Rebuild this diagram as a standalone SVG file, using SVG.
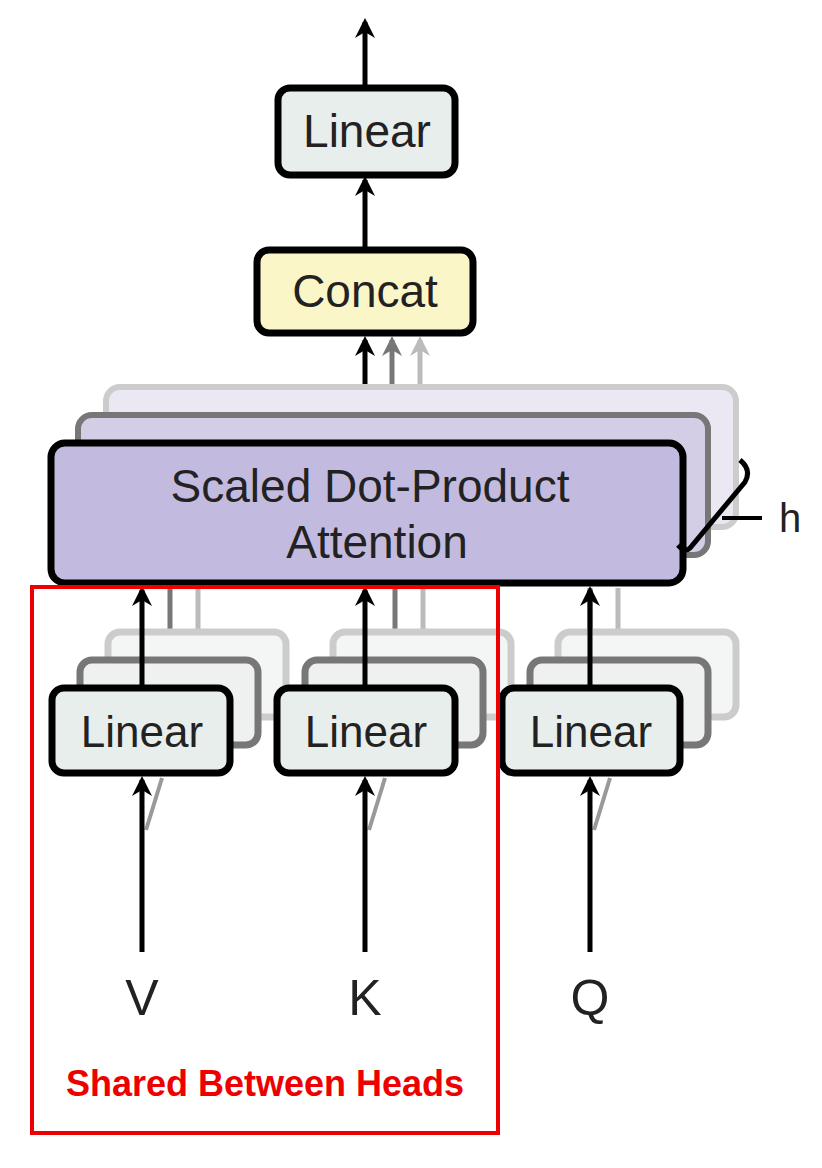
<svg xmlns="http://www.w3.org/2000/svg" width="822" height="1168" viewBox="0 0 822 1168">
<defs>
<style>
.lin{fill:#e8eeec;stroke:#000;stroke-width:7}
.t{font-family:"Liberation Sans",Arial,sans-serif;fill:#222;text-anchor:middle}
.a{stroke:#000;stroke-width:5;fill:none}
.g1{stroke:#777;stroke-width:5;fill:none}
.g2{stroke:#bbb;stroke-width:5;fill:none}
</style>
<marker id="ah" viewBox="0 0 10 10" refX="8" refY="5" markerWidth="4" markerHeight="4" orient="auto"><path d="M0,0L10,5L0,10L3,5z" fill="#000"/></marker>
<marker id="ah1" viewBox="0 0 10 10" refX="8" refY="5" markerWidth="4" markerHeight="4" orient="auto"><path d="M0,0L10,5L0,10L3,5z" fill="#777"/></marker>
<marker id="ah2" viewBox="0 0 10 10" refX="8" refY="5" markerWidth="4" markerHeight="4" orient="auto"><path d="M0,0L10,5L0,10L3,5z" fill="#bbb"/></marker>
</defs>
<rect width="822" height="1168" fill="#fff"/>
<g id="connectors">
<line class="a" x1="365" y1="88" x2="365" y2="22" marker-end="url(#ah)"/>
<line class="a" x1="365" y1="250" x2="365" y2="180" marker-end="url(#ah)"/>
<line class="g2" x1="420" y1="387" x2="420" y2="340" marker-end="url(#ah2)"/>
<line class="g1" x1="392" y1="415" x2="392" y2="340" marker-end="url(#ah1)"/>
<line class="a" x1="365" y1="443" x2="365" y2="340" marker-end="url(#ah)"/>
<line class="g2" x1="198" y1="632" x2="198" y2="588"/><line class="g1" x1="170" y1="660" x2="170" y2="588"/>
<line class="g2" x1="423" y1="632" x2="423" y2="588"/><line class="g1" x1="395" y1="660" x2="395" y2="588"/>
<line class="g2" x1="618" y1="632" x2="618" y2="588"/><line class="g1" x1="590" y1="660" x2="590" y2="588"/>
</g>
<g id="attention">
<rect x="106" y="387" width="630" height="140" rx="14" fill="#ebe8f4" stroke="#ccc" stroke-width="6"/>
<rect x="78" y="415" width="630" height="140" rx="14" fill="#d3cde6" stroke="#777" stroke-width="6"/>
<rect x="51" y="443" width="632" height="140" rx="14" fill="#c3bbdf" stroke="#000" stroke-width="7"/>
<text class="t" x="370" y="502" font-size="46">Scaled Dot-Product</text>
<text class="t" x="377" y="558" font-size="46">Attention</text>
</g>
<g id="h-label">
<path d="M740,460 Q752,470 745,482 L690,548 Q685,553 678,545" fill="none" stroke="#000" stroke-width="5"/>
<line x1="722" y1="518" x2="762" y2="518" stroke="#000" stroke-width="4"/>
<text class="t" x="790" y="532" font-size="40">h</text>
</g>
<g id="linear-back">
<rect class="lin" x="108" y="632" width="178" height="85" rx="12" style="stroke:#ccc;fill:#f4f6f5"/>
<rect class="lin" x="80" y="660" width="178" height="85" rx="12" style="stroke:#777;fill:#eef1f0"/>
<rect class="lin" x="333" y="632" width="178" height="85" rx="12" style="stroke:#ccc;fill:#f4f6f5"/>
<rect class="lin" x="305" y="660" width="178" height="85" rx="12" style="stroke:#777;fill:#eef1f0"/>
<rect class="lin" x="558" y="632" width="178" height="85" rx="12" style="stroke:#ccc;fill:#f4f6f5"/>
<rect class="lin" x="530" y="660" width="178" height="85" rx="12" style="stroke:#777;fill:#eef1f0"/>
</g>
<g id="arrows-front">
<line class="a" x1="142" y1="688" x2="142" y2="590" marker-end="url(#ah)"/>
<line class="a" x1="365" y1="688" x2="365" y2="590" marker-end="url(#ah)"/>
<line class="a" x1="590" y1="688" x2="590" y2="590" marker-end="url(#ah)"/>
<line x1="146" y1="830" x2="162" y2="778" stroke="#999" stroke-width="4"/>
<line x1="369" y1="830" x2="385" y2="778" stroke="#999" stroke-width="4"/>
<line x1="594" y1="830" x2="610" y2="778" stroke="#999" stroke-width="4"/>
<line class="a" x1="142" y1="952" x2="142" y2="780" marker-end="url(#ah)"/>
<line class="a" x1="365" y1="952" x2="365" y2="780" marker-end="url(#ah)"/>
<line class="a" x1="590" y1="952" x2="590" y2="780" marker-end="url(#ah)"/>
</g>
<g id="linear-v"><rect class="lin" x="52" y="688" width="178" height="85" rx="12"/><text class="t" x="142" y="747" font-size="44">Linear</text></g>
<g id="linear-k"><rect class="lin" x="277" y="688" width="178" height="85" rx="12"/><text class="t" x="366" y="747" font-size="44">Linear</text></g>
<g id="linear-q"><rect class="lin" x="502" y="688" width="178" height="85" rx="12"/><text class="t" x="591" y="747" font-size="44">Linear</text></g>
<g id="concat"><rect x="257" y="250" width="216" height="83" rx="12" fill="#fbf6c8" stroke="#000" stroke-width="7"/><text class="t" x="365" y="307" font-size="46">Concat</text></g>
<g id="linear-top"><rect class="lin" x="278" y="88" width="177" height="87" rx="12"/><text class="t" x="367" y="147" font-size="46">Linear</text></g>
<text class="t" x="142" y="1015" font-size="50">V</text>
<text class="t" x="365" y="1015" font-size="50">K</text>
<text class="t" x="590" y="1015" font-size="50">Q</text>
<g id="shared">
<rect x="32" y="587" width="466" height="546" fill="none" stroke="#e00" stroke-width="4"/>
<text x="265" y="1096" font-family="'Liberation Sans',Arial,sans-serif" font-weight="bold" font-size="36" fill="#e00" text-anchor="middle">Shared Between Heads</text>
</g>
</svg>
